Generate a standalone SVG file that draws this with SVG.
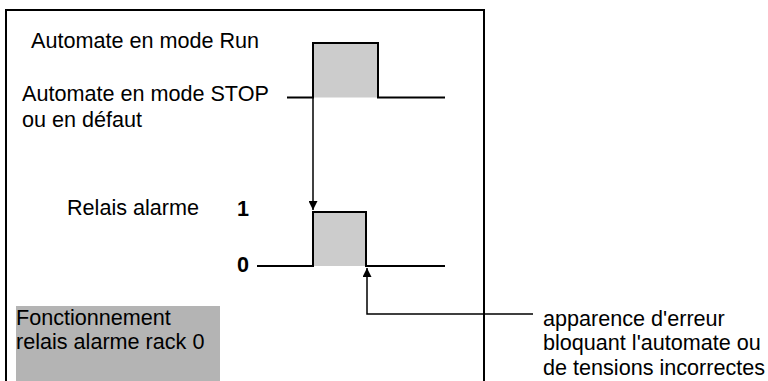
<svg xmlns="http://www.w3.org/2000/svg" width="768" height="381" viewBox="0 0 768 381">
<defs>
<style>
text{font-family:"Liberation Sans",Arial,sans-serif;font-size:21.6px;fill:#000}
.b{font-weight:bold}
.sig{fill:none;stroke:#000;stroke-width:2}
.ln{fill:none;stroke:#000;stroke-width:1.5}
.fill{fill:#cccccc;stroke:none}
</style>
<marker id="ah" viewBox="0 0 10 10" refX="10" refY="5" markerWidth="15" markerHeight="9" markerUnits="userSpaceOnUse" orient="auto">
<path d="M0,0 L10,5 L0,10 z" fill="#000"/>
</marker>
</defs>
<rect width="768" height="381" fill="#fff"/>
<g id="frame"><path d="M6,381 V10 H484 V381" class="sig"/></g>
<g id="legend">
<rect x="16" y="306" width="204" height="75" fill="#b4b4b4"/>
<text x="16" y="325">Fonctionnement</text>
<text x="16" y="349">relais alarme rack 0</text>
</g>
<g id="plc-signal">
<rect x="313" y="43" width="65" height="54.5" class="fill"/>
<path d="M287,97.5 H313 V43 H378 V97.5 H445" class="sig"/>
<text x="31" y="48">Automate en mode Run</text>
<text x="22" y="101">Automate en mode STOP</text>
<text x="22" y="127">ou en défaut</text>
</g>
<g id="relay-signal">
<rect x="313" y="212" width="53" height="54" class="fill"/>
<path d="M257,266 H313 V212 H366 V266 H445" class="sig"/>
<text x="67" y="215">Relais alarme</text>
<text x="237" y="216" class="b">1</text>
<text x="237" y="272" class="b">0</text>
</g>
<g id="error-note">
<text x="543" y="326">apparence d'erreur</text>
<text x="543" y="350">bloquant l'automate ou</text>
<text x="543" y="375">de tensions incorrectes</text>
</g>
<g id="connectors">
<path d="M313,98 V210" class="ln" marker-end="url(#ah)"/>
<path d="M533,314 H367 V268" class="ln" marker-end="url(#ah)"/>
</g>
</svg>
